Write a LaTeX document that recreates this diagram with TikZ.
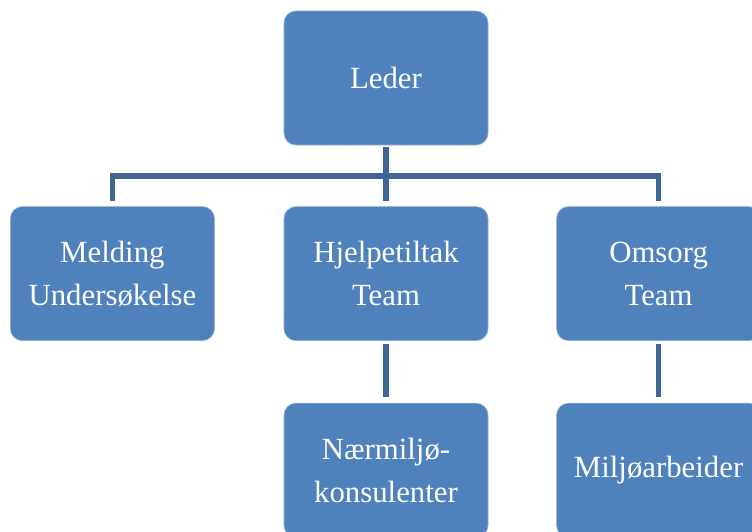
\documentclass[tikz,border=0pt]{standalone}
\usepackage{fontspec}
\setmainfont{Liberation Serif}
\usepackage{tikz}
\usetikzlibrary{positioning}
\definecolor{boxblue}{RGB}{79,129,189}
\definecolor{boxedge}{RGB}{140,172,212}
\definecolor{linkblue}{RGB}{63,103,150}

\begin{document}
\begin{tikzpicture}[x=1pt, y=-1pt,
    unit/.style={rectangle, rounded corners=12pt, fill=boxblue, draw=boxedge, line width=0.6pt,
      minimum width=204pt, minimum height=134pt, inner sep=0pt, text=white, align=center,
      font=\fontsize{30.8}{43}\selectfont},
    link/.style={linkblue, line width=5.5pt}]
  \useasboundingbox (0,0) rectangle (752,531);
  \clip (0,0) rectangle (752,531);
  % Top
  \node[unit] (leder) at (386,78) {Leder};
  % Second row
  \node[unit, below=61pt of leder] (hjelp) {Hjelpetiltak\\Team};
  \node[unit, left=69pt of hjelp] (melding) {Melding\\Undersøkelse};
  \node[unit, right=68pt of hjelp] (omsorg) {Omsorg\\Team};
  % Third row
  \node[unit, below=62pt of hjelp] (naer) {Nærmiljø-\\konsulenter};
  \node[unit, below=62pt of omsorg] (miljo) {Miljøarbeider};
  % Links
  \foreach \t in {melding, hjelp, omsorg}
    \draw[link, shorten <=2pt, shorten >=5pt] (leder.south) -- ++(0,30.5) -| (\t.north);
  \draw[link, shorten <=3pt, shorten >=6pt] (hjelp.south) -- (naer.north);
  \draw[link, shorten <=3pt, shorten >=6pt] (omsorg.south) -- (miljo.north);
\end{tikzpicture}
\end{document}
